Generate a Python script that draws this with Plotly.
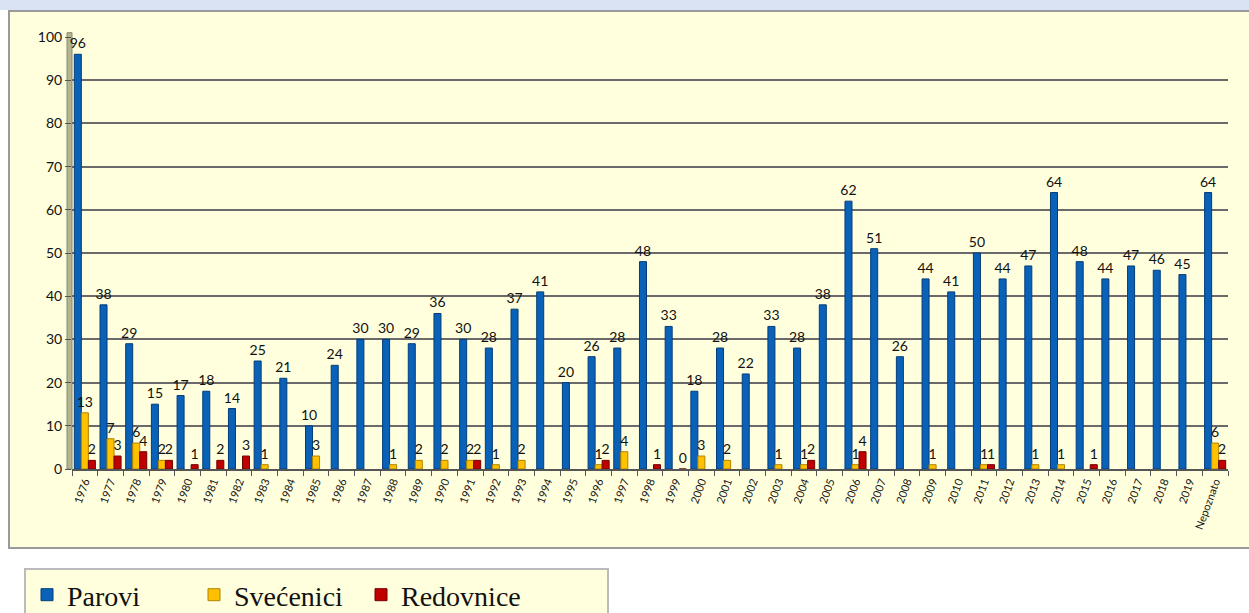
import plotly.graph_objects as go

categories = [str(y) for y in range(1976, 2020)] + ["Nepoznato"]

parovi = [96, 38, 29, 15, 17, 18, 14, 25, 21, 10, 24, 30, 30, 29, 36, 30, 28, 37, 41, 20,
          26, 28, 48, 33, 18, 28, 22, 33, 28, 38, 62, 51, 26, 44, 41, 50, 44, 47, 64, 48,
          44, 47, 46, 45, 64]

svecenici = [13, 7, 6, 2, None, None, None, 1, None, 3, None, None, 1, 2, 2, 2, 1, 2, None, None,
             1, 4, None, None, 3, 2, None, 1, 1, None, 1, None, None, 1, None, 1, None, 1, 1, None,
             None, None, None, None, 6]

redovnice = [2, 3, 4, 2, 1, 2, 3, None, None, None, None, None, None, None, None, 2, None, None, None, None,
             2, None, 1, 0, None, None, None, None, 2, None, 4, None, None, None, None, 1, None, None, None, 1,
             None, None, None, None, 2]

series = [
    ("Parovi", parovi, "#0a62b8", "#053c78"),
    ("Svećenici", svecenici, "#ffc000", "#b08400"),
    ("Redovnice", redovnice, "#c00000", "#700000"),
]

fig = go.Figure()
for name, vals, col, edge in series:
    fig.add_trace(go.Bar(
        name=name, x=categories, y=vals,
        marker=dict(color=col, line=dict(color=edge, width=1)),
        text=[("" if v is None else str(v)) for v in vals],
        textposition="outside", constraintext="none", cliponaxis=False,
        textfont=dict(family="Lato, Liberation Sans", size=14, color="#111"),
    ))

W, H = 1249, 613
ml, mr, mt, mb = 72, 21, 37, 144
PW, PH = W - ml - mr, H - mt - mb

def px_x(x):
    return (x - ml) / PW

def px_y(y):
    return (H - mb - y) / PH

shapes = [
    # top blue band
    dict(type="rect", xref="paper", yref="paper", x0=px_x(0), x1=px_x(W),
         y0=px_y(10), y1=px_y(0),
         fillcolor="#dae3f3", line=dict(width=0), layer="below"),
    # outer chart box
    dict(type="rect", xref="paper", yref="paper", x0=px_x(9), x1=px_x(W + 10),
         y0=px_y(548), y1=px_y(11),
         fillcolor="#ffffdd", line=dict(color="#9a9a9a", width=2), layer="below"),
    # left wall
    dict(type="rect", xref="paper", yref="paper", x0=-5 / PW, x1=0,
         y0=0, y1=1.01, fillcolor="#b5b592", line=dict(color="#888870", width=1), layer="below"),
    # legend box
    dict(type="rect", xref="paper", yref="paper", x0=px_x(25), x1=px_x(608),
         y0=px_y(H + 10), y1=px_y(569),
         fillcolor="#ffffdd", line=dict(color="#bbbbbb", width=2), layer="below"),
]

fig.update_layout(
    width=W, height=H,
    margin=dict(l=ml, r=mr, t=mt, b=mb),
    paper_bgcolor="white", plot_bgcolor="#ffffdd",
    barmode="group", bargap=0.18, bargroupgap=0,
    shapes=shapes,
    font=dict(family="Lato, Liberation Sans", color="#111"),
    showlegend=True,
    legend=dict(orientation="h", xref="container", yref="container",
                x=27 / W, y=1 - 570 / H, xanchor="left", yanchor="top",
                bgcolor="rgba(0,0,0,0)", borderwidth=0,
                font=dict(family="Liberation Serif, Times New Roman", size=28, color="#111"),
                entrywidth=122, itemwidth=30, traceorder="normal"),
    xaxis=dict(type="category", tickangle=-70, tickfont=dict(size=11, family="Lato, Liberation Sans"),
               showgrid=False, showline=True, linecolor="#555", linewidth=2,
               ticks="outside", tickson="boundaries", ticklen=5, tickcolor="#555"),
    yaxis=dict(range=[0, 100], dtick=10, showgrid=True, gridcolor="#6a6a6a", gridwidth=2,
               zeroline=False, showline=False, ticks="outside", ticklen=6, tickcolor="#555",
               tickfont=dict(size=14, family="Lato, Liberation Sans")),
)

fig.write_html("out.html", config={"displayModeBar": False},
               post_script="document.body.style.margin='0';document.body.style.overflow='hidden';")
